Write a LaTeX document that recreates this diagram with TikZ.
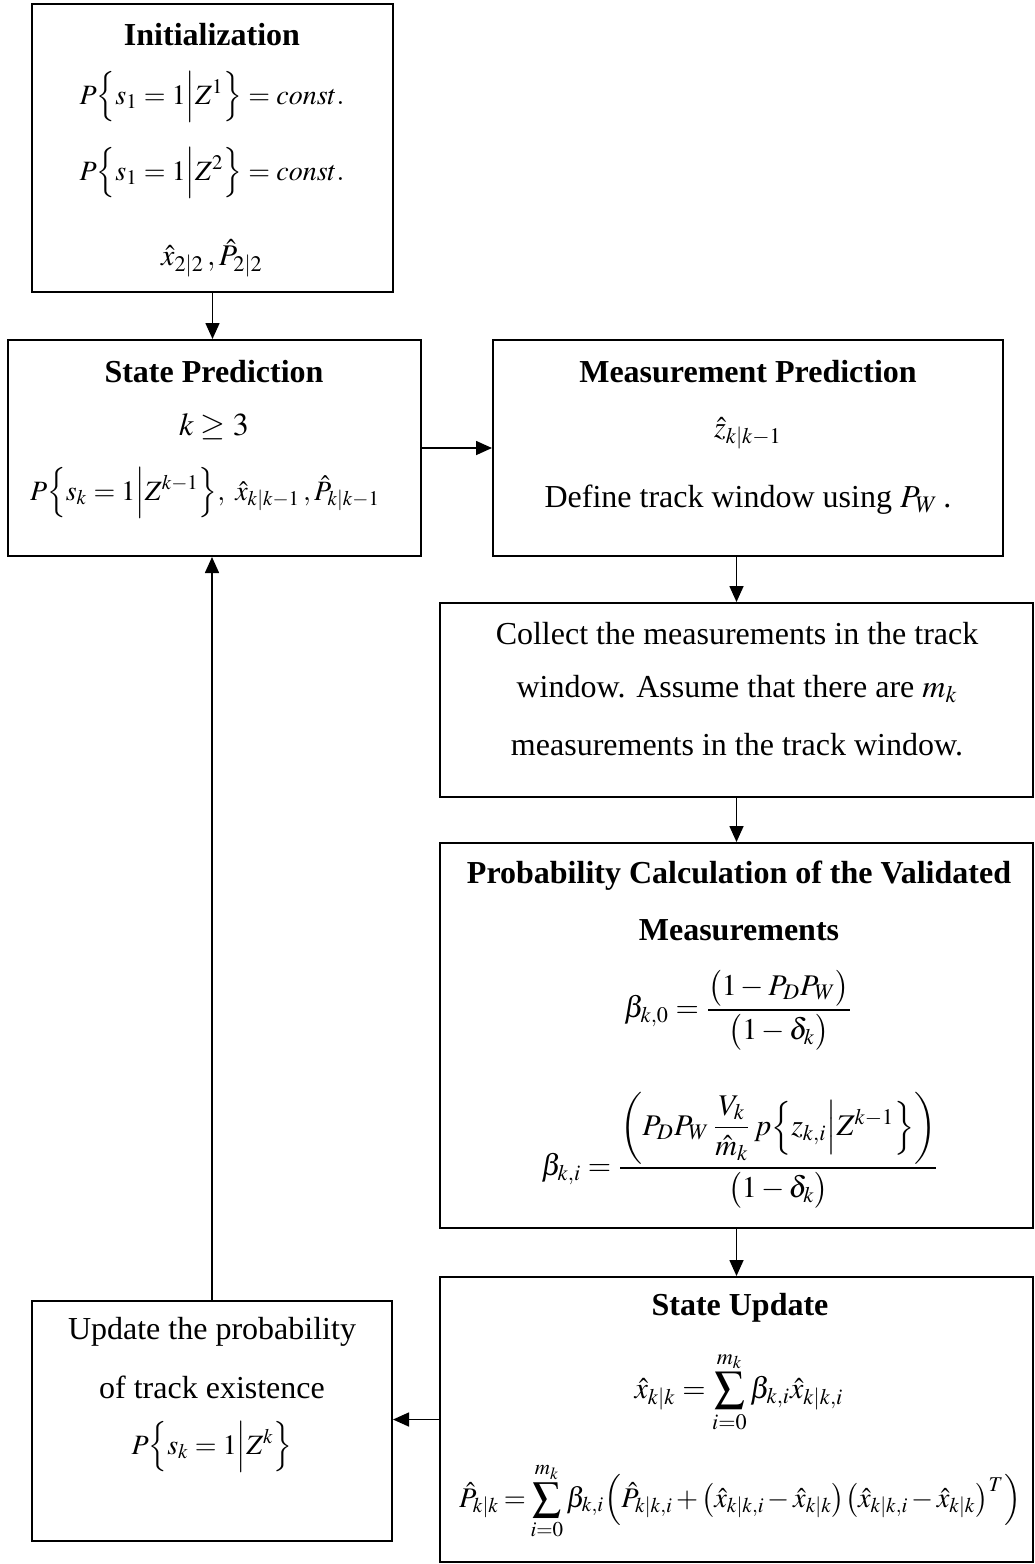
\documentclass[tikz,border=0pt]{standalone}
\usepackage{amsmath}
\usepackage{mathptmx}
\usepackage{fontspec}
\setmainfont{Liberation Serif}
\usetikzlibrary{arrows.meta}
\newlength\px
\setlength\px{0.5pt}
\tikzset{
  box/.style={draw, line width=1pt, inner sep=0pt, rectangle},
  txt/.style={inner sep=0pt, font=\fontsize{16}{19}\selectfont},
  eqa/.style={inner sep=0pt, font=\fontsize{14}{17}\selectfont},
  eqb/.style={inner sep=0pt, font=\fontsize{15}{18}\selectfont},
  arr/.style={line width=0.8pt, -{Triangle[length=8pt,width=7pt]}},
}
\begin{document}
\begin{tikzpicture}[x=0.5pt,y=-0.5pt]
\useasboundingbox (0,0) rectangle (1034,1564);
% boxes
\node[box, minimum width=361\px, minimum height=288\px] (init) at (212.5,148) {};
\node[box, minimum width=413\px, minimum height=216\px] (sp) at (214.5,448) {};
\node[box, minimum width=510\px, minimum height=216\px] (mp) at (748,448) {};
\node[box, minimum width=593\px, minimum height=194\px] (col) at (736.5,700) {};
\node[box, minimum width=593\px, minimum height=385\px] (prob) at (736.5,1035.5) {};
\node[box, minimum width=593\px, minimum height=285\px] (su) at (736.5,1419.5) {};
\node[box, minimum width=360\px, minimum height=240\px] (up) at (212,1421) {};
% texts: init
\node[txt] (i1) at (212,35) {\bfseries Initialization};
\node[eqa] (i2) at (212,97) {$P\Bigl\{s_1 = 1\Big|Z^1\Bigr\}= const.$};
\node[eqa] (i3) at (212,173) {$P\Bigl\{s_1 = 1\Big|Z^2\Bigr\}= const.$};
\node[eqb] (i4) at (212,258) {$\hat{x}_{2|2}\,, \hat{P}_{2|2}$};
% state prediction
\node[txt] (s1) at (214,372) {\bfseries State Prediction};
\node[txt] (s2) at (214,427) {$k \geq 3$};
\node[eqa] (s3) at (205,493) {$P\Bigl\{s_k = 1\Big|Z^{k-1}\Bigr\},\ \hat{x}_{k|k-1}\,, \hat{P}_{k|k-1}$};
% measurement prediction
\node[txt] (m1) at (748,372) {\bfseries Measurement Prediction};
\node[eqb] (m2) at (748,433) {$\hat{z}_{k|k-1}$};
\node[txt] (m3) at (748,500) {Define track window using $P_W$\,.};
% collect
\node[txt] (c1) at (737,634) {Collect the measurements in the track};
\node[txt] (c2) at (737,689) {window. Assume that there are $m_k$};
\node[txt] (c3) at (737,745) {measurements in the track window.};
% probability
\node[txt] (p1) at (739,876) {\bfseries Probability Calculation of the Validated};
\node[txt] (p2) at (739,930) {\bfseries Measurements};
\node[eqb] (p3) at (738,1010) {$\displaystyle \beta_{k,0} = \frac{\bigl(1-P_D P_W\bigr)}{\bigl(1-\delta_k\bigr)}$};
\node[eqb] (p4) at (740,1150) {$\displaystyle \beta_{k,i} = \frac{\left(P_D P_W\,\dfrac{V_k}{\hat{m}_k}\,p\Bigl\{z_{k,i}\Big|Z^{k-1}\Bigr\}\right)}{\bigl(1-\delta_k\bigr)}$};
% state update
\node[txt] (u1) at (740,1308) {\bfseries State Update};
\node[eqb] (u2) at (739,1392) {$\displaystyle \hat{x}_{k|k} = \sum_{i=0}^{m_k}\beta_{k,i}\hat{x}_{k|k,i}$};
\node[inner sep=0pt, font=\fontsize{14.2}{17}\selectfont] (u3) at (740,1501) {\medmuskip=2mu \thickmuskip=3mu $\displaystyle \hat{P}_{k|k} = \sum_{i=0}^{m_k}\beta_{k,i}\Bigl(\hat{P}_{k|k,i}+\bigl(\hat{x}_{k|k,i}-\hat{x}_{k|k}\bigr)\bigl(\hat{x}_{k|k,i}-\hat{x}_{k|k}\bigr)^T\Bigr)$};
% update probability
\node[txt] (e1) at (212,1332) {Update the probability};
\node[txt] (e2) at (212,1387) {of track existence};
\node[eqa] (e3) at (212,1447) {$P\Bigl\{s_k = 1\Big|Z^k\Bigr\}$};
% connectors
\draw[arr] (init.south) -- (init.south |- sp.north);
\draw[arr] (sp.east) -- (mp.west);
\draw[arr] (mp.south -| col.north) -- (col.north);
\draw[arr] (col.south) -- (prob.north);
\draw[arr] (prob.south) -- (su.north);
\draw[arr] (su.west) -- (su.west -| up.east);
\draw[arr] (up.north) -- (up.north |- sp.south);
\end{tikzpicture}
\end{document}
